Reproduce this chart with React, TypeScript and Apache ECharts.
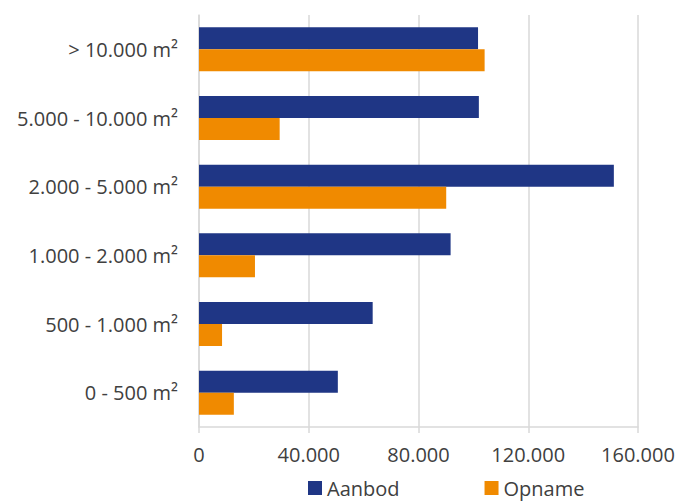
import React, { useEffect, useRef } from "react";
import * as echarts from "echarts";

const categories = [
  "0 - 500 m²",
  "500 - 1.000 m²",
  "1.000 - 2.000 m²",
  "2.000 - 5.000 m²",
  "5.000 - 10.000 m²",
  "> 10.000 m²",
];
const aanbod = [50600, 63300, 91700, 151200, 102000, 101700];
const opname = [12700, 8400, 20400, 90100, 29400, 104100];
const seriesNames = ["Aanbod", "Opname"];

const FONT = "'Open Sans', sans-serif";
const TEXT = "#404040";

function fmt(v: number) {
  return String(v).replace(/\B(?=(\d{3})+(?!\d))/g, ".");
}

export default function App() {
  const ref = useRef<HTMLDivElement>(null);
  useEffect(() => {
    if (!ref.current) return;
    const chart = echarts.init(ref.current, null, { renderer: "svg" });
    chart.setOption({
      animation: false,
      backgroundColor: "#ffffff",
      grid: { left: 199, right: 51, top: 15, bottom: 77, containLabel: false },
      legend: {
        top: 478,
        left: 308,
        itemWidth: 14,
        itemHeight: 14,
        itemGap: 85,
        icon: "rect",
        padding: 0,
        textStyle: { fontFamily: FONT, fontSize: 20, color: TEXT },
        data: seriesNames,
      },
      xAxis: {
        type: "value",
        min: 0,
        max: 160000,
        interval: 40000,
        axisLine: { show: true, lineStyle: { color: "#d9d9d9", width: 1.5 } },
        axisTick: { show: true, length: 6, lineStyle: { color: "#d9d9d9", width: 1.5 } },
        splitLine: { show: true, lineStyle: { color: "#d9d9d9", width: 1.5 } },
        axisLabel: {
          fontFamily: FONT,
          fontSize: 20,
          color: TEXT,
          margin: 17,
          formatter: (v: number) => fmt(v),
        },
      },
      yAxis: {
        type: "category",
        data: categories,
        axisLine: { show: true, lineStyle: { color: "#d9d9d9", width: 1.5 } },
        axisTick: { show: false },
        splitLine: { show: false },
        axisLabel: { fontFamily: FONT, fontSize: 20, color: TEXT, margin: 21 },
      },
      series: [
        {
          name: seriesNames[0],
          type: "bar",
          data: aanbod,
          itemStyle: { color: "#1f3685" },
          barGap: "0%",
          barCategoryGap: "36%",
        },
        {
          name: seriesNames[1],
          type: "bar",
          data: opname,
          itemStyle: { color: "#f08a00" },
          barGap: "0%",
          barCategoryGap: "36%",
        },
      ],
    });
    return () => chart.dispose();
  }, []);
  return (
    <div
      ref={ref}
      style={{ position: "fixed", left: 0, top: 0, width: 689, height: 504 }}
    />
  );
}
